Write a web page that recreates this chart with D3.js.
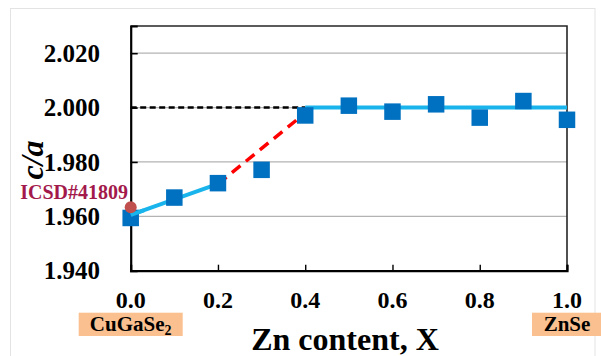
<!DOCTYPE html>
<html>
<head>
<meta charset="utf-8">
<script src="https://cdn.jsdelivr.net/npm/d3@7"></script>
<style>
  html, body { margin: 0; padding: 0; background: #fff; }
  svg { display: block; }
</style>
</head>
<body>
<svg id="chart" width="601" height="356"></svg>
<script>
// Zn content X and measured c/a ratio
const zn = [0.0, 0.1, 0.2, 0.3, 0.4, 0.5, 0.6, 0.7, 0.8, 0.9, 1.0];
const ca = [1.9594, 1.9669, 1.9722, 1.9771, 1.9971, 2.0007, 1.9985, 2.0012, 1.9963, 2.0024, 1.9955];

// Guide lines
const fitLow = [[0.0, 1.9605], [0.2, 1.9719]];
const trendMid = [[0.2, 1.9719], [0.4, 1.9980]];
const fitHigh = [[0.4, 2.000], [1.0, 2.000]];
const idealRef = [[0.0, 2.000], [0.4, 2.000]];

// Reference value from ICSD
const icsd = { x: 0.0, y: 1.9633, label: "ICSD#41809" };

const xTicks = [0.0, 0.2, 0.4, 0.6, 0.8, 1.0];
const yTicks = [1.94, 1.96, 1.98, 2.00, 2.02];
const endLabels = [{ x: 0.0, main: "CuGaSe", sub: "2" }, { x: 1.0, main: "ZnSe", sub: "" }];

const FONT = "'Liberation Serif', Tinos, 'Times New Roman', 'DejaVu Serif', serif";

const svg = d3.select("#chart")
  .style("font-family", FONT)
  .style("font-weight", "bold");

const x = d3.scaleLinear().domain([0, 1]).range([130.7, 567]);
const y = d3.scaleLinear().domain([1.94, 2.03]).range([270.7, 26]);

// outer chart-area frame
svg.append("rect")
  .attr("x", 10.5).attr("y", 8.5).attr("width", 584.5).attr("height", 400)
  .attr("fill", "none").attr("stroke", "#e3e3e3").attr("stroke-width", 1);

// horizontal gridlines
svg.append("g").selectAll("line")
  .data(yTicks.filter(d => d > 1.941))
  .join("line")
  .attr("x1", x(0)).attr("x2", x(1))
  .attr("y1", d => y(d)).attr("y2", d => y(d))
  .attr("stroke", "#b3b3b3").attr("stroke-width", 1.2);

// plot border (top and right)
svg.append("path")
  .attr("d", `M${x(0)},${y(2.03)}H${x(1)}V${y(1.94)}`)
  .attr("fill", "none").attr("stroke", "#262626").attr("stroke-width", 1.6);

// y axis
const yAxis = d3.axisRight(y).tickValues(yTicks).tickSize(7).tickFormat("");
const gy = svg.append("g").attr("transform", `translate(${x(0)},0)`).call(yAxis);
gy.select(".domain").attr("stroke", "#000").attr("stroke-width", 2.2);
gy.selectAll(".tick line").attr("stroke", "#000").attr("stroke-width", 1.6);

svg.append("g").selectAll("text")
  .data(yTicks)
  .join("text")
  .attr("x", 100).attr("y", d => y(d))
  .attr("dy", "0.35em")
  .attr("text-anchor", "end")
  .style("font-family", FONT).style("font-weight", "bold")
  .attr("font-size", 25)
  .attr("fill", "#000")
  .text(d => d3.format(".3f")(d));

// x axis
const xAxis = d3.axisTop(x).tickValues(xTicks).tickSize(6).tickFormat("");
const gx = svg.append("g").attr("transform", `translate(0,${y(1.94)})`).call(xAxis);
gx.select(".domain").attr("stroke", "#000").attr("stroke-width", 2.2);
gx.selectAll(".tick line").attr("stroke", "#000").attr("stroke-width", 1.4);

svg.append("g").selectAll("text")
  .data(xTicks)
  .join("text")
  .attr("x", d => x(d)).attr("y", 308)
  .attr("text-anchor", "middle")
  .style("font-family", FONT).style("font-weight", "bold")
  .attr("font-size", 24)
  .attr("fill", "#000")
  .text(d => d3.format(".1f")(d));

// axis titles
svg.append("text")
  .attr("x", 345).attr("y", 350)
  .attr("text-anchor", "middle")
  .style("font-family", FONT).style("font-weight", "bold")
  .attr("font-size", 32)
  .attr("fill", "#000")
  .text("Zn content, X");

svg.append("text")
  .attr("transform", "translate(43,160) rotate(-90)")
  .attr("text-anchor", "middle")
  .style("font-family", FONT).style("font-weight", "bold")
  .style("font-style", "italic")
  .attr("font-size", 32)
  .attr("fill", "#000")
  .text("c/a");

// line generator
const line = d3.line().x(d => x(d[0])).y(d => y(d[1]));

svg.append("path").datum(idealRef)
  .attr("d", line).attr("fill", "none")
  .attr("stroke", "#000").attr("stroke-width", 2.6).attr("stroke-dasharray", "6,3.5");

svg.append("path").datum(fitLow)
  .attr("d", line).attr("fill", "none")
  .attr("stroke", "#19b4ec").attr("stroke-width", 4);

svg.append("path").datum(fitHigh)
  .attr("d", line).attr("fill", "none")
  .attr("stroke", "#19b4ec").attr("stroke-width", 4);

svg.append("path").datum(trendMid)
  .attr("d", line).attr("fill", "none")
  .attr("stroke", "#ff0000").attr("stroke-width", 3.5).attr("stroke-dasharray", "11,7");

// data markers
const sq = 16.5;
svg.append("g").selectAll("rect")
  .data(zn.map((v, i) => [v, ca[i]]))
  .join("rect")
  .attr("x", d => x(d[0]) - sq / 2)
  .attr("y", d => y(d[1]) - sq / 2)
  .attr("width", sq).attr("height", sq)
  .attr("fill", "#0070c0");

// the low fit starts on top of the first marker
svg.append("path").datum([fitLow[0], [0.03, fitLow[0][1] + (fitLow[1][1] - fitLow[0][1]) * 0.15]])
  .attr("d", line).attr("fill", "none")
  .attr("stroke", "#19b4ec").attr("stroke-width", 4);

// ICSD reference point
svg.append("circle")
  .attr("cx", x(icsd.x)).attr("cy", y(icsd.y)).attr("r", 6)
  .attr("fill", "#c0504d");

svg.append("text")
  .attr("x", 128).attr("y", 199)
  .attr("text-anchor", "end")
  .style("font-family", FONT).style("font-weight", "bold")
  .attr("font-size", 20)
  .attr("fill", "#a3194b")
  .text(icsd.label);

// end-member labels
const endG = svg.append("g").selectAll("g")
  .data(endLabels)
  .join("g");

endG.append("rect")
  .attr("x", d => d.sub ? x(d.x) - 52 : x(d.x) - 35)
  .attr("y", 312.7)
  .attr("width", d => d.sub ? 104 : 75)
  .attr("height", 23.3)
  .attr("fill", "#fac08f");

const endT = endG.append("text")
  .attr("x", d => x(d.x))
  .attr("y", 331)
  .attr("text-anchor", "middle")
  .style("font-family", FONT).style("font-weight", "bold")
  .attr("font-size", 21)
  .attr("fill", "#000");
endT.append("tspan").text(d => d.main);
endT.append("tspan")
  .attr("font-size", 14).attr("dy", 4)
  .text(d => d.sub);
</script>
</body>
</html>
